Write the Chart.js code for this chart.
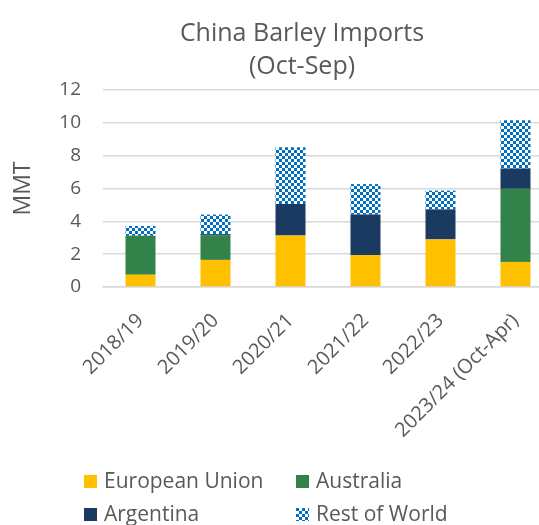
<!DOCTYPE html>
<html>
<head>
<meta charset="utf-8">
<script src="https://cdn.jsdelivr.net/npm/chart.js@4"></script>
<style>
    html, body { margin: 0; padding: 0; overflow: hidden; background: #fff; }
    #wrap { position: relative; width: 555px; height: 525px; }
    #title {
        position: absolute; left: 0; width: 604px; top: 15px;
        text-align: center; font-family: 'Open Sans', sans-serif;
        font-size: 25px; line-height: 33px; color: #595959;
    }
    .leg {
        position: absolute; font-family: 'Open Sans', sans-serif;
        font-size: 21px; color: #595959; line-height: 22px;
    }
    .box { display: inline-block; width: 13px; height: 13px; margin-right: 7px; vertical-align: 0px; }
    #myChart { position: absolute; left: 0; top: 0; }
</style>
</head>
<body>
<div id="wrap">
    <canvas id="myChart" width="555" height="487"></canvas>
    <div id="title">China Barley Imports<br>(Oct-Sep)</div>
    <div class="leg" style="left:84px;top:469px"><span class="box" style="background:#FFC000"></span>European Union</div>
    <div class="leg" style="left:296px;top:469px"><span class="box" style="background:#32824A"></span>Australia</div>
    <div class="leg" style="left:84px;top:502px"><span class="box" style="background:#1A3A62"></span>Argentina</div>
    <div class="leg" style="left:296px;top:502px"><span class="box" id="rowBox"></span>Rest of World</div>
</div>
<script>
const labels = ['2018/19', '2019/20', '2020/21', '2021/22', '2022/23', '2023/24 (Oct-Apr)'];
const euData = [0.75, 1.65, 3.14, 1.94, 2.90, 1.53];
const ausData = [2.35, 1.51, 0, 0, 0, 4.45];
const argData = [0.02, 0.06, 1.92, 2.47, 1.83, 1.24];
const rowData = [0.60, 1.19, 3.45, 1.86, 1.14, 2.94];

// checkerboard fill for Rest of World
function makePattern() {
    const c = document.createElement('canvas');
    c.width = 6; c.height = 6;
    const p = c.getContext('2d');
    p.fillStyle = '#ffffff';
    p.fillRect(0, 0, 6, 6);
    p.fillStyle = '#0070C0';
    p.fillRect(0, 0, 3, 3);
    p.fillRect(3, 3, 3, 3);
    return c;
}
const patCanvas = makePattern();
document.getElementById('rowBox').style.background = 'url(' + patCanvas.toDataURL() + ')';

const ctx = document.getElementById('myChart').getContext('2d');
const rowPattern = ctx.createPattern(patCanvas, 'repeat');

const myChart = new Chart(ctx, {
    type: 'bar',
    data: {
        labels: labels,
        datasets: [
            { label: 'European Union', data: euData, backgroundColor: '#FFC000' },
            { label: 'Australia', data: ausData, backgroundColor: '#32824A' },
            { label: 'Argentina', data: argData, backgroundColor: '#1A3A62' },
            { label: 'Rest of World', data: rowData, backgroundColor: rowPattern }
        ]
    },
    options: {
        responsive: false,
        animation: false,
        devicePixelRatio: 1,
        barPercentage: 0.4,
        categoryPercentage: 1.0,
        layout: { padding: { top: 90, right: 2, left: 0, bottom: 0 } },
        plugins: {
            legend: { display: false },
            title: { display: false },
            tooltip: { enabled: false }
        },
        scales: {
            x: {
                stacked: true,
                grid: { display: false, drawTicks: false },
                border: { display: true, color: '#D9D9D9', width: 1.5 },
                ticks: {
                    minRotation: 45, maxRotation: 45, padding: 22,
                    color: '#595959',
                    font: { family: 'Open Sans', size: 20 }
                },
                afterFit: function(scale) { scale.height = 200; }
            },
            y: {
                stacked: true,
                min: 0,
                max: 12,
                ticks: {
                    stepSize: 2, padding: 22,
                    color: '#595959',
                    font: { family: 'Open Sans', size: 19 }
                },
                grid: { color: '#D9D9D9', lineWidth: 1.5, drawTicks: false },
                border: { display: false },
                title: {
                    display: true, text: 'MMT', color: '#595959',
                    font: { family: 'Open Sans', size: 23 },
                    padding: { top: 10, bottom: 0 }
                },
                afterFit: function(scale) { scale.width = 103; }
            }
        }
    }
});
</script>
</body>
</html>
